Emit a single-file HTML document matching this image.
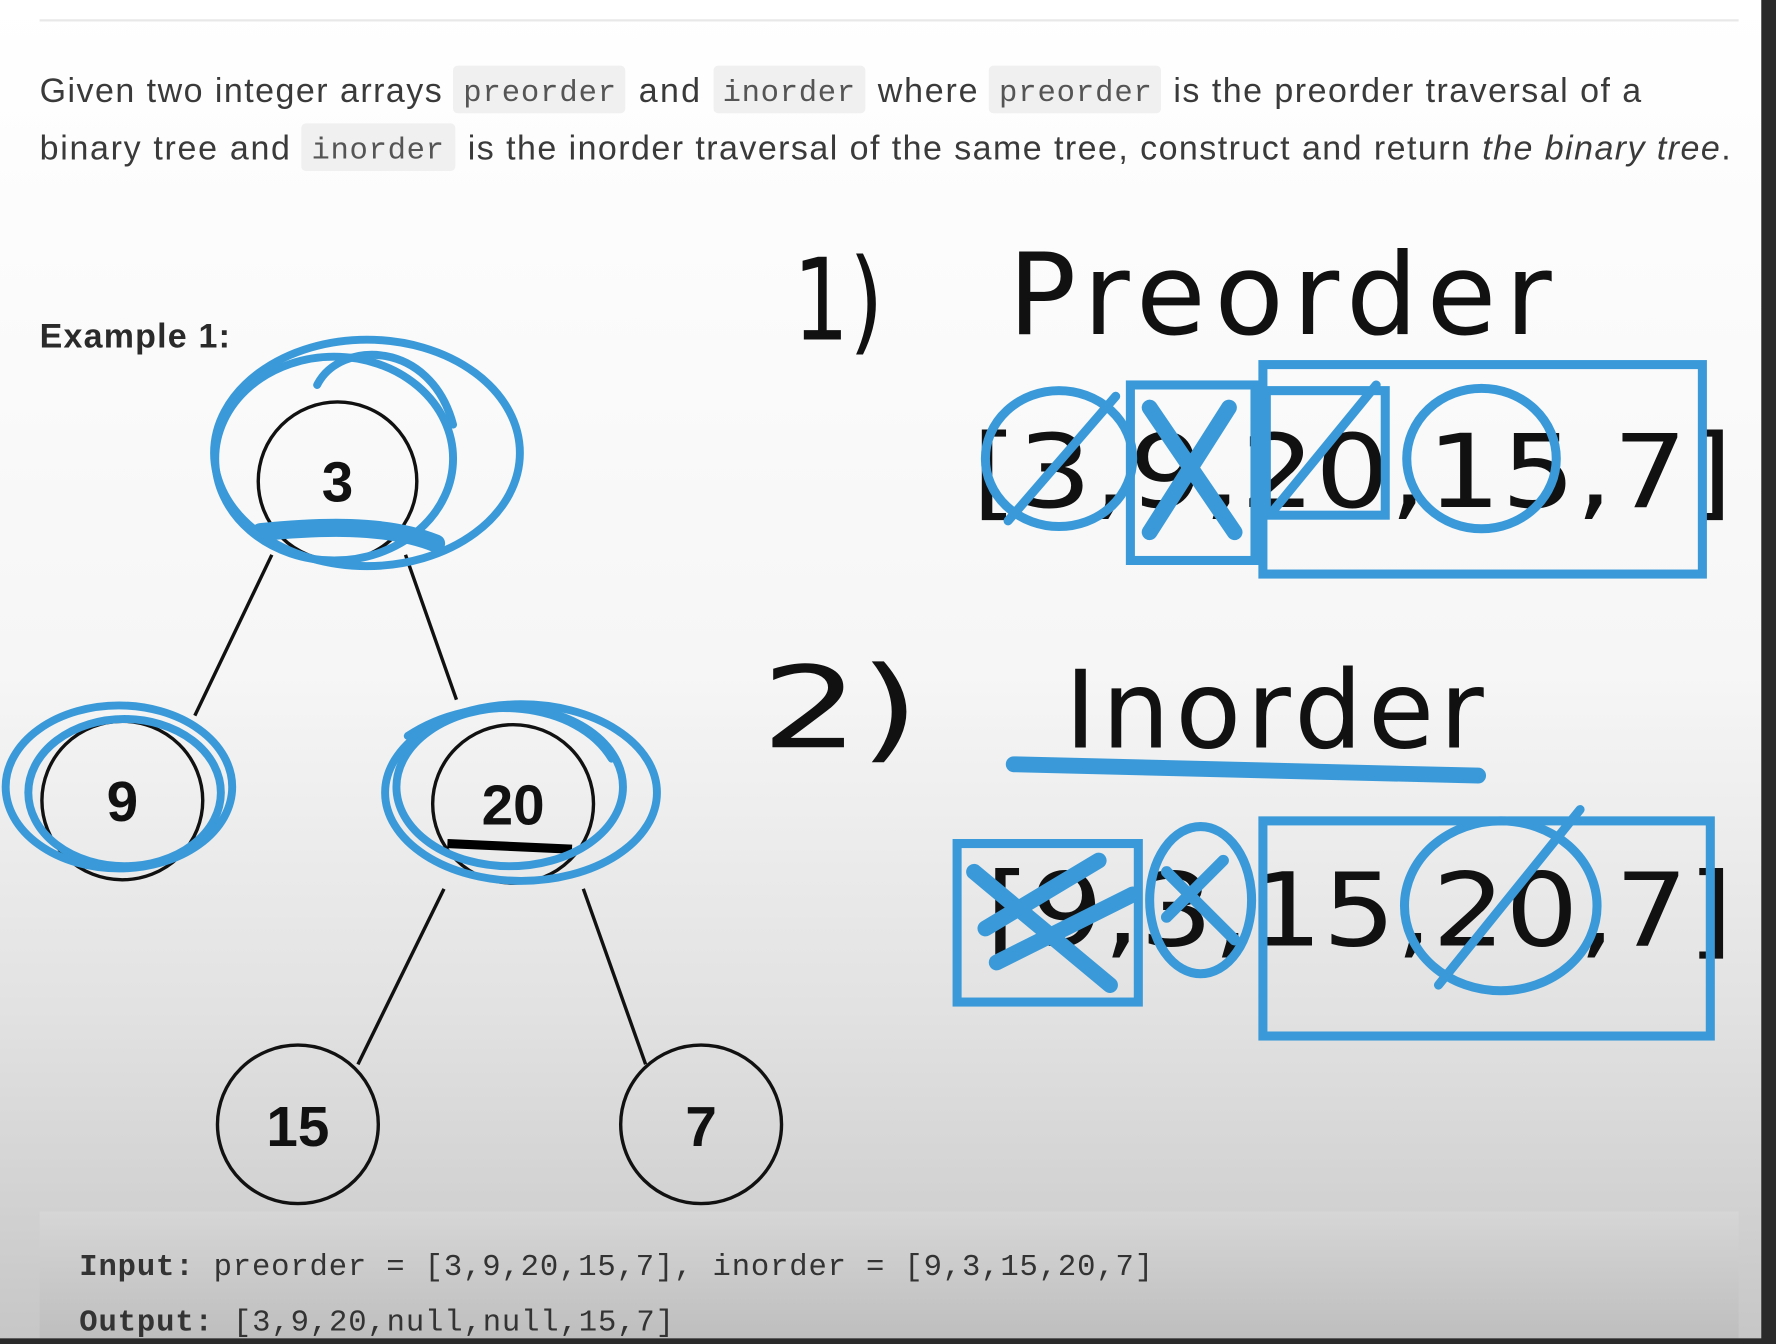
<!DOCTYPE html>
<html><head><meta charset="utf-8"><style>
html,body{margin:0;padding:0;width:1776px;height:1344px;overflow:hidden;background:#fff}
svg{display:block}
</style></head><body>
<svg width="1776" height="1344" viewBox="0 0 1568 1187" preserveAspectRatio="none" xmlns="http://www.w3.org/2000/svg">
<defs>
<linearGradient id="bg" x1="0" y1="0" x2="0" y2="1">
<stop offset="0" stop-color="#ffffff"/>
<stop offset="0.5" stop-color="#f6f6f6"/>
<stop offset="0.75" stop-color="#e2e2e2"/>
<stop offset="1" stop-color="#c6c6c6"/>
</linearGradient>
<linearGradient id="cb" x1="0" y1="0" x2="0" y2="1">
<stop offset="0" stop-color="#d6d6d6"/>
<stop offset="1" stop-color="#bdbdbd"/>
</linearGradient>
</defs>
<rect width="1568" height="1187" fill="url(#bg)"/>
<line x1="35" y1="18" x2="1535" y2="18" stroke="#e8e8e8" stroke-width="2"/>
<rect x="1555" y="0" width="13" height="1187" fill="#2a2a2a"/>
<rect x="35" y="1070" width="1500" height="117" fill="url(#cb)"/>
<rect x="0" y="1182" width="1568" height="5" fill="#2a2a2a"/>

<g font-family="Liberation Sans, sans-serif" font-size="30" fill="#3a3a3a">
<rect x="400" y="58" width="152" height="42" rx="4" fill="#f0f0f0"/>
<rect x="630" y="58" width="134" height="42" rx="4" fill="#f0f0f0"/>
<rect x="873" y="58" width="152" height="42" rx="4" fill="#f0f0f0"/>
<rect x="266" y="109" width="136" height="42" rx="4" fill="#f0f0f0"/>
<text x="35" y="90" textLength="355">Given two integer arrays</text>
<text x="564" y="90" textLength="54">and</text>
<text x="775" y="90" textLength="88">where</text>
<text x="1036" y="90" textLength="413">is the preorder traversal of a</text>
<text x="35" y="141" textLength="221">binary tree and</text>
<text x="413" y="141" textLength="1115">is the inorder traversal of the same tree, construct and return <tspan font-style="italic">the binary tree</tspan>.</text>
<g font-family="Liberation Mono, monospace" font-size="27" fill="#555">
<text x="409" y="89" textLength="135">preorder</text>
<text x="638" y="89" textLength="117">inorder</text>
<text x="882" y="89" textLength="135">preorder</text>
<text x="275" y="140" textLength="117">inorder</text>
</g>
<text x="35" y="307" font-weight="bold" font-size="30" fill="#2a2a2a" textLength="168">Example 1:</text>
</g>

<!-- tree -->
<g stroke="#111" stroke-width="3" fill="none">
<line x1="240" y1="490" x2="172" y2="632"/>
<line x1="358" y1="490" x2="403" y2="618"/>
<line x1="392" y1="785" x2="316" y2="940"/>
<line x1="515" y1="785" x2="570" y2="940"/>
<ellipse cx="298" cy="425" rx="70" ry="70"/>
<ellipse cx="108" cy="707" rx="71" ry="70"/>
<ellipse cx="453" cy="710" rx="71" ry="70"/>
<ellipse cx="263" cy="993" rx="71" ry="70"/>
<ellipse cx="619" cy="993" rx="71" ry="70"/>
</g>
<g font-family="Liberation Sans, sans-serif" font-weight="bold" font-size="50" fill="#111" text-anchor="middle">
<text x="298" y="443">3</text>
<text x="108" y="725">9</text>
<text x="453" y="728">20</text>
<text x="263" y="1012">15</text>
<text x="619" y="1012">7</text>
</g>
<path d="M395 745 L505 750" stroke="#000" stroke-width="8"/>

<!-- blue scribbles on tree -->
<g stroke="#3a9ad9" stroke-width="7" fill="none" stroke-linecap="round">
<ellipse cx="324" cy="400" rx="135" ry="100"/>
<ellipse cx="295" cy="405" rx="105" ry="90"/>
<path d="M280 340 C300 300 380 300 400 375"/>
<path d="M230 470 C280 465 340 462 385 480" stroke-width="16"/>
<ellipse cx="105" cy="695" rx="100" ry="72"/>
<ellipse cx="110" cy="700" rx="85" ry="65"/>
<ellipse cx="460" cy="700" rx="120" ry="78"/>
<ellipse cx="450" cy="695" rx="100" ry="70"/>
<path d="M360 650 C420 610 510 620 540 670"/>
</g>

<!-- handwriting black -->
<g font-family="DejaVu Sans, sans-serif" fill="#111">
<text x="700" y="300" font-size="100" textLength="80" lengthAdjust="spacingAndGlyphs">1)</text>
<text x="890" y="295" font-size="100" textLength="480">Preorder</text>
<text x="672" y="660" font-size="100" textLength="140" lengthAdjust="spacingAndGlyphs">2)</text>
<text x="940" y="660" font-size="95" textLength="370">Inorder</text>
<text x="858" y="448" font-size="90" textLength="672" lengthAdjust="spacingAndGlyphs">[3,9,20,15,7]</text>
<text x="870" y="835" font-size="90" textLength="660" lengthAdjust="spacingAndGlyphs">[9,3,15,20,7]</text>
</g>

<!-- blue on arrays -->
<g stroke="#3a9ad9" stroke-width="8" fill="none" stroke-linecap="round">
<ellipse cx="935" cy="405" rx="65" ry="60"/>
<line x1="890" y1="460" x2="985" y2="350"/>
<rect x="998" y="340" width="110" height="155"/>
<line x1="1015" y1="360" x2="1090" y2="470" stroke-width="14"/>
<line x1="1085" y1="360" x2="1015" y2="470" stroke-width="14"/>
<rect x="1115" y="322" width="388" height="185"/>
<rect x="1118" y="345" width="105" height="110"/>
<line x1="1125" y1="450" x2="1215" y2="340"/>
<ellipse cx="1308" cy="405" rx="66" ry="62"/>
<path d="M895 675 L1305 685" stroke-width="14"/>
<rect x="845" y="745" width="160" height="140"/>
<path d="M860 770 L980 870 M870 820 L970 760 M880 850 L1000 790" stroke-width="14"/>
<ellipse cx="1060" cy="795" rx="45" ry="65"/>
<path d="M1030 770 L1090 830 M1030 810 L1080 760" stroke-width="10"/>
<rect x="1115" y="725" width="395" height="190"/>
<ellipse cx="1325" cy="800" rx="85" ry="75"/>
<line x1="1270" y1="870" x2="1395" y2="715"/>
</g>

<!-- code -->
<g font-family="Liberation Mono, monospace" font-size="27" fill="#333">
<text x="70" y="1126" textLength="948"><tspan font-weight="bold">Input:</tspan> preorder = [3,9,20,15,7], inorder = [9,3,15,20,7]</text>
<text x="70" y="1175" textLength="525"><tspan font-weight="bold">Output:</tspan> [3,9,20,null,null,15,7]</text>
</g>
</svg>
</body></html>
